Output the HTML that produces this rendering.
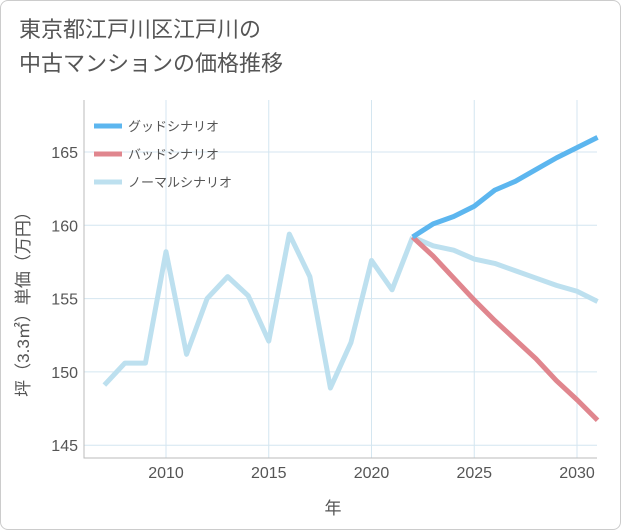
<!DOCTYPE html>
<html><head><meta charset="utf-8"><style>
body{margin:0;background:#fff}
#wrap{position:relative;width:619px;height:528px;border:1px solid #ccc;border-radius:8px;overflow:hidden;font-family:"Liberation Sans","Noto Sans CJK JP",sans-serif}
.title{position:absolute;left:18px;top:12px;font-size:22px;line-height:34px;color:#555}
</style></head><body>
<div id="wrap">
<div class="title">東京都江戸川区江戸川の<br>中古マンションの価格推移</div>
<svg id="chart" width="621" height="530" style="position:absolute;left:-1px;top:-1px"></svg>
</div>
<script>
const years=[2007,2008,2009,2010,2011,2012,2013,2014,2015,2016,2017,2018,2019,2020,2021,2022];
const hist=[149.1,150.6,150.6,158.2,151.2,155.0,156.5,155.2,152.1,159.4,156.5,148.9,152.0,157.6,155.6,159.2];
const futYears=[2022,2023,2024,2025,2026,2027,2028,2029,2030,2031];
const good=[159.2,160.1,160.6,161.3,162.4,163.0,163.8,164.6,165.3,166.0];
const bad=[159.2,157.9,156.4,154.9,153.5,152.2,150.9,149.4,148.1,146.7];
const normal=[159.2,158.6,158.3,157.7,157.4,156.9,156.4,155.9,155.5,154.8];
const xTicks=[2010,2015,2020,2025,2030];
const yTicks=[145,150,155,160,165];
const legendLabels=["グッドシナリオ","バッドシナリオ","ノーマルシナリオ"];
const NS="http://www.w3.org/2000/svg";
const svg=document.getElementById('chart');
const L=84,R=597,T=100,B=458;
const x=v=>166+(v-2010)*20.55;
const y=v=>152+(165-v)*14.66;
function el(t,a,p){const e=document.createElementNS(NS,t);for(const k in a)e.setAttribute(k,a[k]);(p||svg).appendChild(e);return e;}
xTicks.forEach(t=>{
 const g=el('line',{x1:x(t),x2:x(t),y1:T,y2:B,stroke:'#d4e6f0','stroke-width':1});
 
 
 const l=el('text',{x:x(t),y:B+20,'text-anchor':'middle','font-size':16,fill:'#555'});
 l.textContent=t;
 
 
});
yTicks.forEach(t=>{
 const g=el('line',{x1:L,x2:R,y1:y(t),y2:y(t),stroke:'#d4e6f0','stroke-width':1});
 
 
 const l=el('text',{x:L-6,y:y(t)+6,'text-anchor':'end','font-size':16,fill:'#555'});
 l.textContent=t;
 
 
});
const ax=el('path',{d:`M${L},${T}V${B}H${R}`,fill:'none',stroke:'#bbb','stroke-width':1});


function line(xs,vs,c,name){
 const p=el('polyline',{points:xs.map((t,i)=>x(t)+','+y(vs[i])).join(' '),fill:'none',stroke:c,'stroke-width':5,'stroke-linejoin':'round'});
 
 
}
line(years,hist,'#bde0ef','history-line');
line(futYears,normal,'#bde0ef','normal-line');
line(futYears,bad,'#e0868e','bad-line');
line(futYears,good,'#5cb6ef','good-line');
const lc=['#5cb6ef','#e0868e','#bde0ef'];
legendLabels.forEach((s,i)=>{
 const ly=126+i*28;
 const m=el('line',{x1:94,x2:122,y1:ly,y2:ly,stroke:lc[i],'stroke-width':5});
 
 
 const t=el('text',{x:128,y:ly+5,'font-size':13,fill:'#555'});
 t.textContent=s;
 
 
});
const xt=el('text',{x:333,y:514,'text-anchor':'middle','font-size':17,fill:'#555'});
xt.textContent='年';


const yt=el('text',{x:0,y:0,'text-anchor':'middle','font-size':17,fill:'#555',transform:'translate(29,300) rotate(-90)'});
yt.textContent='坪（3.3㎡）単価（万円）';


</script>
</body></html>
